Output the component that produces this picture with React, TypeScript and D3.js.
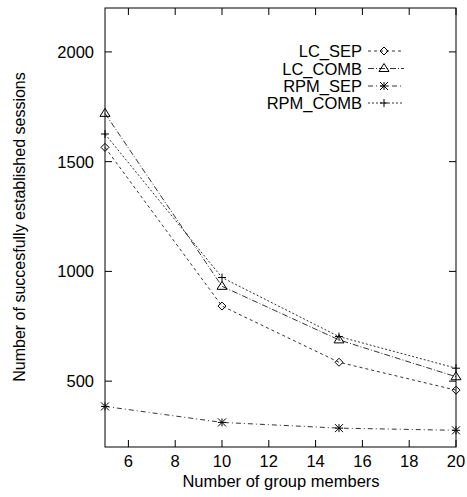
import React from "react";
import * as d3 from "d3";

const members = [5, 10, 15, 20];
const lcSep = [1565, 842, 586, 459];
const lcComb = [1720, 932, 688, 520];
const rpmSep = [385, 312, 286, 276];
const rpmComb = [1626, 972, 703, 559];
const xTicks = [6, 8, 10, 12, 14, 16, 18, 20];
const yTicks = [500, 1000, 1500, 2000];
const seriesNames = ["LC_SEP", "LC_COMB", "RPM_SEP", "RPM_COMB"];

const W = 467, H = 497;
const L = 105, R = 456, T = 8, B = 447;

const dashes = ["3,3", "6,2,1,2", "5,3,1,3", "2,2"];
const markerKinds = ["diamond", "triangle", "star", "plus"];

function Marker({ kind, x, y }: { kind: string; x: number; y: number }) {
  const s = 4;
  if (kind === "diamond")
    return <path d={`M${x},${y - s}L${x + s},${y}L${x},${y + s}L${x - s},${y}Z`} fill="none" stroke="#000" strokeWidth={1} />;
  if (kind === "triangle")
    return <path d={`M${x},${y - s - 1}L${x + s + 1},${y + s - 1}L${x - s - 1},${y + s - 1}Z`} fill="none" stroke="#000" strokeWidth={1} />;
  if (kind === "star")
    return (
      <path
        d={`M${x - s},${y}H${x + s}M${x},${y - s}V${y + s}M${x - s},${y - s}L${x + s},${y + s}M${x - s},${y + s}L${x + s},${y - s}`}
        stroke="#000"
        strokeWidth={1}
      />
    );
  return <path d={`M${x - s},${y}H${x + s}M${x},${y - s}V${y + s}`} stroke="#000" strokeWidth={1} />;
}

export default function App() {
  const x = d3.scaleLinear().domain([5, 20]).range([L, R]);
  const y = d3.scaleLinear().domain([200, 2200]).range([B, T]);
  const all = [lcSep, lcComb, rpmSep, rpmComb];
  const line = d3
    .line<number>()
    .x((_, i) => x(members[i]))
    .y((d) => y(d));
  const font = "Liberation Sans, Arial, Helvetica, sans-serif";
  const fs = 16.5;
  const legendX = 362;
  const legendY = [51, 68.5, 86, 103];
  return (
    <svg width={W} height={H} style={{ position: "absolute", left: 0, top: 0 }} fontFamily={font}>
      <rect x={0} y={0} width={W} height={H} fill="#fff" />
      {all.map((s, k) => (
        <path key={k} d={line(s) || ""} fill="none" stroke="#000" strokeWidth={0.8} strokeDasharray={dashes[k]} />
      ))}
      {all.map((s, k) =>
        s.map((v, i) => <Marker key={`${k}-${i}`} kind={markerKinds[k]} x={x(members[i])} y={y(v)} />)
      )}
      <rect x={L} y={T} width={R - L} height={B - T} fill="none" stroke="#000" strokeWidth={1} />
      {xTicks.map((t) => (
        <g key={t}>
          <line x1={x(t)} x2={x(t)} y1={B} y2={B - 7} stroke="#000" />
          <line x1={x(t)} x2={x(t)} y1={T} y2={T + 7} stroke="#000" />
          <text x={x(t)} y={467} textAnchor="middle" fontSize={fs}>
            {t}
          </text>
        </g>
      ))}
      {yTicks.map((t) => (
        <g key={t}>
          <line x1={L} x2={L + 7} y1={y(t)} y2={y(t)} stroke="#000" />
          <line x1={R} x2={R - 7} y1={y(t)} y2={y(t)} stroke="#000" />
          <text x={94} y={y(t) + 6} textAnchor="end" fontSize={fs}>
            {t}
          </text>
        </g>
      ))}
      <text x={281} y={487} textAnchor="middle" fontSize={fs}>
        Number of group members
      </text>
      <text transform={`translate(25,227) rotate(-90)`} textAnchor="middle" fontSize={16}>
        Number of succesfully established sessions
      </text>
      {seriesNames.map((n, k) => (
        <g key={n}>
          <text x={legendX} y={legendY[k] + 6} textAnchor="end" fontSize={fs}>
            {n}
          </text>
          <line x1={368} x2={404} y1={legendY[k]} y2={legendY[k]} stroke="#000" strokeWidth={0.8} strokeDasharray={dashes[k]} />
          <Marker kind={markerKinds[k]} x={384} y={legendY[k]} />
        </g>
      ))}
    </svg>
  );
}
